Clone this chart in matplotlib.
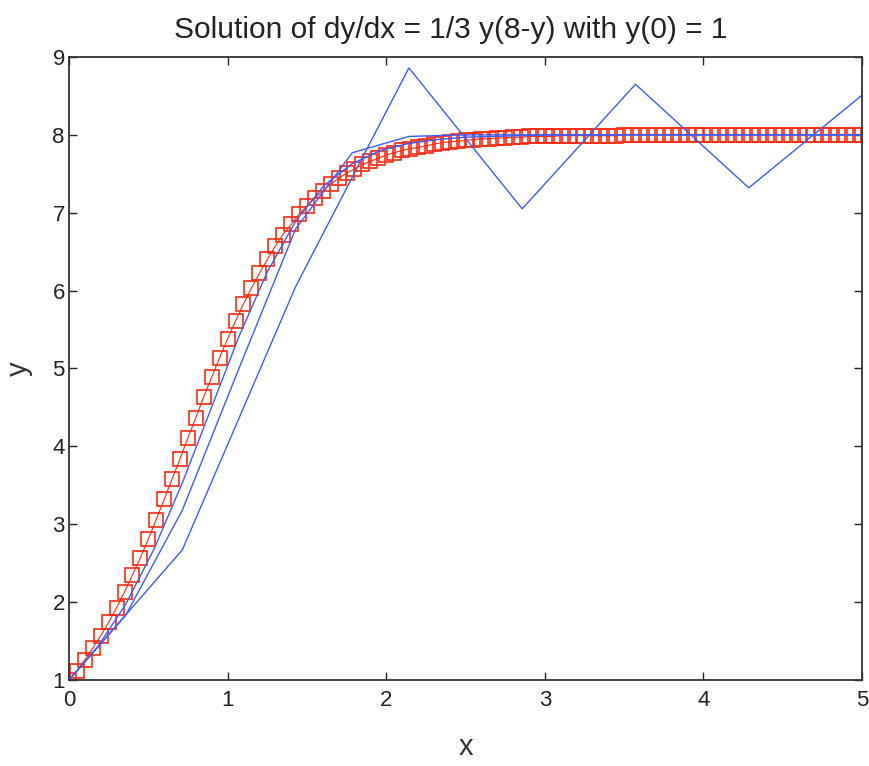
import numpy as np
import matplotlib
matplotlib.use("Agg")
import matplotlib.pyplot as plt

plt.rcParams['font.family'] = ['Liberation Sans', 'DejaVu Sans']

# exact solution, sampled every 0.05
x_exact = np.linspace(0, 5, 101)
y_exact = [1.00, 1.12, 1.26, 1.41, 1.57, 1.74, 1.93, 2.13, 2.35, 2.57,
           2.81, 3.06, 3.32, 3.58, 3.84, 4.11, 4.37, 4.64, 4.89, 5.14,
           5.38, 5.61, 5.83, 6.03, 6.22, 6.40, 6.57, 6.72, 6.85, 6.98,
           7.09, 7.19, 7.28, 7.37, 7.44, 7.51, 7.56, 7.62, 7.66, 7.70,
           7.74, 7.77, 7.80, 7.82, 7.84, 7.86, 7.88, 7.90, 7.91, 7.92,
           7.93, 7.94, 7.95, 7.95, 7.96, 7.96, 7.97, 7.97, 7.98, 7.98,
           7.98, 7.98, 7.99, 7.99, 7.99, 7.99, 7.99, 7.99, 7.99, 7.99] + [8.00] * 31

# euler approximations (7, 14 and 28 steps)
y_n7 = [1.00, 2.67, 6.05, 8.86, 7.05, 8.65, 7.32, 8.51]
y_n14 = [1.00, 1.83, 3.18, 5.00, 6.79, 7.77, 7.98, 8.00,
         8.00, 8.00, 8.00, 8.00, 8.00, 8.00, 8.00]
y_n28 = [1.00, 1.42, 1.97, 2.68, 3.53, 4.47, 5.41, 6.24, 6.89, 7.35,
         7.63, 7.80, 7.89, 7.94, 7.97, 7.98, 7.99, 8.00, 8.00, 8.00,
         8.00, 8.00, 8.00, 8.00, 8.00, 8.00, 8.00, 8.00, 8.00]

blue = "#3a5cff"
red = "#ff2a10"

fig = plt.figure(figsize=(8.69, 7.66), dpi=100)
ax = fig.add_axes([0.0794, 0.1123, 0.9126, 0.8133])

ax.plot(x_exact, y_exact, "s-", color=red, markerfacecolor="none",
        markeredgecolor=red, markersize=10, markeredgewidth=1.2, linewidth=0.8)
for ys in [y_n7, y_n14, y_n28]:
    ax.plot(np.linspace(0, 5, len(ys)), ys, color=blue, linewidth=1.0)

ax.set_xlim(0, 5)
ax.set_ylim(1, 9)
ax.set_xticks([0, 1, 2, 3, 4, 5])
ax.set_yticks([1, 2, 3, 4, 5, 6, 7, 8, 9])
ax.tick_params(direction="in", top=True, right=True, length=6, width=1,
               labelsize=16, colors="#222222")
ax.tick_params(axis="x", pad=7)
ax.tick_params(axis="y", pad=3)
for s in ax.spines.values():
    s.set_linewidth(1.3)
    s.set_color("#333333")

ax.set_title("Solution of dy/dx = 1/3 y(8-y) with y(0) = 1", fontsize=21.5,
             color="#222222", pad=14, x=0.482)
ax.set_xlabel("x", fontsize=21, color="#333333", labelpad=16)
ax.set_ylabel("y", fontsize=21, color="#333333", labelpad=14)

fig.savefig("out.png", dpi=100)
